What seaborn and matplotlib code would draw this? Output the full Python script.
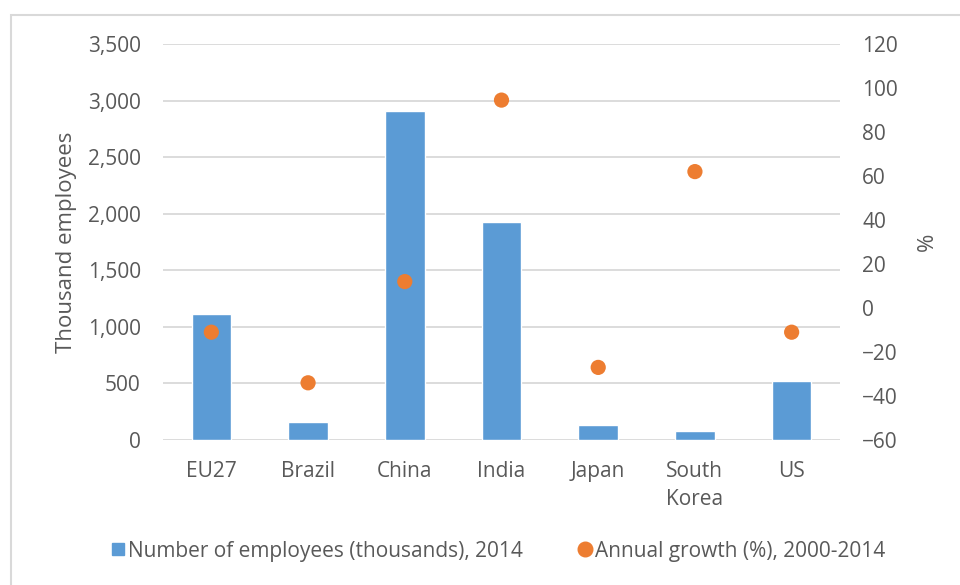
import matplotlib
matplotlib.use("Agg")
import matplotlib.pyplot as plt
import seaborn as sns
import pandas as pd
from matplotlib.patches import Rectangle
from matplotlib.lines import Line2D

categories = ["EU27", "Brazil", "China", "India", "Japan", "South\nKorea", "US"]
employees_2014 = [1110, 160, 2905, 1930, 135, 80, 520]
annual_growth = [-11, -34, 12, 94.5, -27, 62, -11]
left_ticks = [0, 500, 1000, 1500, 2000, 2500, 3000, 3500]
right_ticks = [-60, -40, -20, 0, 20, 40, 60, 80, 100, 120]

bar_label = "Number of employees (thousands), 2014"
dot_label = "Annual growth (%), 2000-2014"

df = pd.DataFrame({"country": categories, "employees": employees_2014, "growth": annual_growth})

sns.set_theme(style="white")
plt.rcParams["font.family"] = ["Open Sans", "DejaVu Sans"]
text_color = "#595959"
grid_color = "#D9D9D9"
blue = "#5B9BD5"
orange = "#ED7D31"

fig = plt.figure(figsize=(9.6, 5.85), dpi=100)
ax = fig.add_axes([163/960, 1-440/585, (840-163)/960, (440-44)/585])

sns.barplot(data=df, x="country", y="employees", color=blue, width=0.41,
            saturation=1, ax=ax, zorder=2)
ax.set_ylim(0, 3500)
ax.set_xlim(-0.5, 6.5)
ax.set_yticks(left_ticks)
ax.set_yticklabels([f"{v:,}" for v in left_ticks])
ax.yaxis.grid(True, color=grid_color, lw=1.3, zorder=0)
ax.set_axisbelow(True)
for s in ax.spines.values():
    s.set_visible(False)
ax.tick_params(axis="both", length=0, labelsize=15, colors=text_color)
ax.tick_params(axis="y", pad=16)
ax.tick_params(axis="x", pad=15)
for lbl in ax.get_xticklabels():
    lbl.set_linespacing(1.45)
ax.set_xlabel("")
ax.set_ylabel("Thousand employees", fontsize=16, color=text_color)
ax.yaxis.set_label_coords(-0.127, 0.5)

ax2 = ax.twinx()
sns.scatterplot(data=df, x="country", y="growth", color=orange, s=120,
                edgecolor="none", ax=ax2, zorder=3, legend=False)
ax2.set_ylim(-60, 120)
ax2.set_yticks(right_ticks)
ax2.set_xlim(-0.5, 6.5)
for s in ax2.spines.values():
    s.set_visible(False)
ax2.tick_params(axis="y", length=0, labelsize=15, colors=text_color, pad=16)
ax2.set_ylabel("%", fontsize=16, color=text_color)
ax2.yaxis.set_label_coords(1.113, 0.5)
ax2.set_xlabel("")

handles = [
    Line2D([], [], marker="s", linestyle="none", markersize=9, color=blue),
    Line2D([], [], marker="o", linestyle="none", markersize=10.5, color=orange),
]
leg = fig.legend(handles, [bar_label, dot_label], loc="center",
                 bbox_to_anchor=(0.5 + 18/960, 1-551/585), ncol=2, frameon=False,
                 fontsize=15, handlelength=0.7, handletextpad=0.15,
                 columnspacing=2.6)
for t in leg.get_texts():
    t.set_color(text_color)

fig.patches.append(Rectangle((11/960, -0.1), 1.5, (1-15/585)+0.1,
                             transform=fig.transFigure, fill=False,
                             edgecolor=grid_color, lw=1.5))

fig.savefig("out.png", dpi=100)
